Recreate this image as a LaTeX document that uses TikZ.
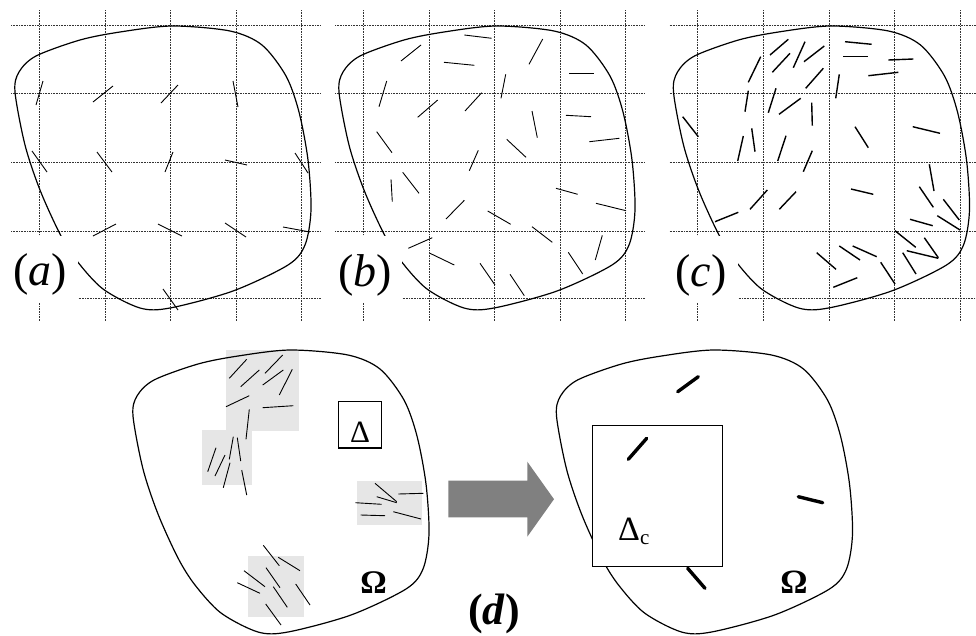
\documentclass[tikz,border=0pt]{standalone}
\usepackage{fontspec}
\setmainfont{Liberation Serif}
\definecolor{boxgray}{HTML}{E6E6E6}
\definecolor{arrowgray}{HTML}{808080}
\begin{document}
\begin{tikzpicture}[x=1pt,y=-1pt,
  gridline/.style={line width=0.8pt, dash pattern=on 0.9pt off 0.7pt, black!80},
  outline/.style={line width=1.2pt, black},
  fib/.style={line width=0.9pt, black},
  fibc/.style={line width=1.4pt, black},
  fibd/.style={line width=3.4pt, black, line cap=round},
  lab/.style={font=\fontsize{46}{46}\selectfont, inner sep=0pt},
  greek/.style={inner sep=0pt},
]
\useasboundingbox (0,0) rectangle (976,635);
\def\blob{plot[smooth cycle, tension=0.5] coordinates {(15,92) (19,72) (36,56) (80,40) (120,32) (172,26) (230,31) (262,45) (286,76) (299,112) (308,160) (311,210) (305,245) (288,265) (233,291) (170,308) (140,308) (103,289) (77,261) (60,234) (40,190) (25,145)}}

% ---------- panels a, b, c : grids and outlines ----------
\foreach \dx in {0,324,658.5}{
  \begin{scope}[shift={(\dx,0)}]
    \foreach \x in {39,105,170.5,236,301.5} \draw[gridline] (\x,10) -- (\x,321);
    \foreach \y in {25,93,162,231} \draw[gridline] (11,\y) -- (321,\y);
    \draw[gridline] (77,298.5) -- (321,298.5);
    \draw[outline] \blob;
  \end{scope}
}

% ---------- panel a fibres ----------
\foreach \xa/\ya/\xb/\yb in {36/105/43/81, 93/102/113/86, 161/103/178/85, 233/81/238/107,
  32/151/47/172, 97/152/112/172, 165/172/173/152, 225/160/247/165, 295/153/308/173,
  93/236/116/224, 158/224/182/236, 225/223/246/237, 283/227/310/232, 163/289/178/310}
  \draw[fib] (\xa,\ya) -- (\xb,\yb);

% ---------- panel b fibres ----------
\foreach \xa/\ya/\xb/\yb in {464.3/35/491.7/38.3, 401/61/421/45, 444/62.3/474.3/65.3,
  529/64.3/542.7/39, 569.3/73/594.3/73, 379/106.7/386.7/81, 417.7/117.3/437.7/100,
  465/111/481.7/92.7, 501/98.3/505.7/74.3, 532/111/537.3/137.7, 566/115.3/591/116.7,
  589.3/141.7/619.3/138.3, 376.7/131.7/392/152.7, 506.7/139.3/526/157.3,
  469.3/170.7/478.3/150.3, 391/179.3/392.3/201.7, 402.7/172.3/419/193.3,
  556/188.3/577.7/194.3, 596/203.3/626/210.7, 446/219/464.3/200.3,
  487.7/211/510.7/224.3, 532/226.7/552.3/242.3, 408.3/248.3/432.3/237.7,
  430/253.3/454.3/265, 480/263.3/495/285, 510/274.3/524.3/295.7,
  568.3/252.3/582.7/274, 595.3/260/602.3/235.3}
  \draw[fib] (\xa,\ya) -- (\xb,\yb);

% ---------- panel c fibres ----------
\foreach \xa/\ya/\xb/\yb in {770/55/788.3/39.3, 793.3/67.7/805/41.7, 804/61.7/824.3/46,
  845/41.7/871.7/44.3, 843.3/56.7/867.7/56.7, 888.3/60/913.3/59, 748.3/82.3/760.7/56.7,
  772.3/72.3/790/53.3, 805.7/88.3/823.3/68.3, 868.3/75.7/898.3/72.3, 835.7/98.3/839.3/74.3,
  745/111.7/748.3/90.7, 768.3/112.7/776/88.3, 779/114.3/800.7/98.3, 812.3/125.7/811.7/102.7,
  682.7/116.7/698.3/136.7, 855/126.7/868.3/147.7, 912.7/126.7/940/133.3,
  737.7/161/743.3/136, 751.7/128.3/755/151.7, 777.7/161/786/135.7, 803.3/171.7/812.3/150.7,
  929.3/164.3/934/191, 851/189/873.3/194.3, 750/209.3/767.3/190, 779.3/209.3/796/191.7,
  715/221.7/738.3/212.3, 919.3/186.7/933.3/207.3, 943.3/199.3/959.3/220,
  910/219.3/932.7/225.7, 937.3/215.7/960/230, 895/230.7/915.7/247.3,
  924.3/237.7/938.3/257.7, 906.7/250.7/938.3/258.3, 902.7/252.7/916/274,
  839.3/246/860/260, 852.7/246/876.7/256.7, 816.7/252.7/836/269.3,
  880.7/262.3/895/284, 833.3/287.3/857.3/277.7}
  \draw[fibc] (\xa,\ya) -- (\xb,\yb);

% ---------- label boxes a, b, c ----------
\fill[white] (6,236) rectangle (77.5,302);
\fill[white] (330,236) rectangle (401.5,302);
\fill[white] (664,236) rectangle (738,302);
\node[lab] (la) at (40,274) {(\textit{a})};
\node[lab] (lb) at (365,275) {(\textit{b})};
\node[lab] (lc) at (701,275) {(\textit{c})};

% ---------- panel d, left ----------
\fill[boxgray] (226,350) rectangle (299,430.7);
\fill[boxgray] (202,430) rectangle (252,484.7);
\fill[boxgray] (357,481) rectangle (422,524.7);
\fill[boxgray] (248,556) rectangle (304,616.7);
\draw[outline, shift={(118,324)}] \blob;
\draw[line width=1.2pt] (338.3,401.7) rectangle (381.7,448);
\node[greek, font=\fontsize{31}{31}\selectfont] (delta) at (360,432) {Δ};
\foreach \xa/\ya/\xb/\yb in {229.3/378.3/246.7/359.3, 240.7/386.7/259.3/370,
  265/373.3/282.7/355, 262.7/385/283.3/370, 279.3/395/292.3/369.3,
  226/406.7/249.3/395.7, 262.7/407.7/293.3/405.7, 246/439.3/249.3/409.3,
  207.7/471.7/216/447.7, 215/476/225/455, 229.3/459.3/233.3/436.7,
  237.3/437.7/240.7/461, 223.3/487.7/230/462.7, 241.7/470/246.7/495,
  375/483.3/396.7/501.7, 376.7/496.7/396.7/502.7, 398.3/494/423.3/493.3,
  355.3/502.7/381.7/504.3, 360.7/515/385/515.7, 393.3/511.7/421/519,
  263.3/545.3/279.3/565.7, 278.3/557.3/300/570.7, 244/570.7/265/586.7,
  266/567.7/280/587.7, 237.3/582.7/260/593.3, 273.3/586.7/287.3/607.3,
  295.7/584/310/605, 265.7/604/281/625}
  \draw[fib] (\xa,\ya) -- (\xb,\yb);
\node[greek, font=\fontsize{33}{33}\selectfont\bfseries] (omegaL) at (373.5,583) {Ω};

% ---------- arrow ----------
\fill[arrowgray] (448.3,480.7) -- (527.3,480.7) -- (527.3,461.7) -- (554,499.2)
  -- (527.3,536.7) -- (527.3,517.3) -- (448.3,517.3) -- cycle;
\node[lab, font=\fontsize{44}{44}\selectfont\bfseries] (ld) at (494,614) {(\textit{d})};

% ---------- panel d, right ----------
\draw[outline, shift={(541.5,324)}] \blob;
\draw[fibd] (677.7,391.7) -- (698.3,376.7);
\draw[fibd] (798.3,496.7) -- (822.7,502.7);
\draw[fibd] (687.7,568.3) -- (705,588.3);
\draw[line width=1.2pt, fill=white] (592.7,425.7) rectangle (722.3,566.7);
\draw[fibd] (628.3,459.3) -- (646.7,438.3);
\node[greek, font=\fontsize{34}{34}\selectfont, anchor=base west] (deltac) at (618,540) {Δ\raisebox{-4pt}{\fontsize{21}{21}\selectfont c}};
\node[greek, font=\fontsize{34}{34}\selectfont\bfseries] (omegaR) at (794,582) {Ω};
\end{tikzpicture}
\end{document}
